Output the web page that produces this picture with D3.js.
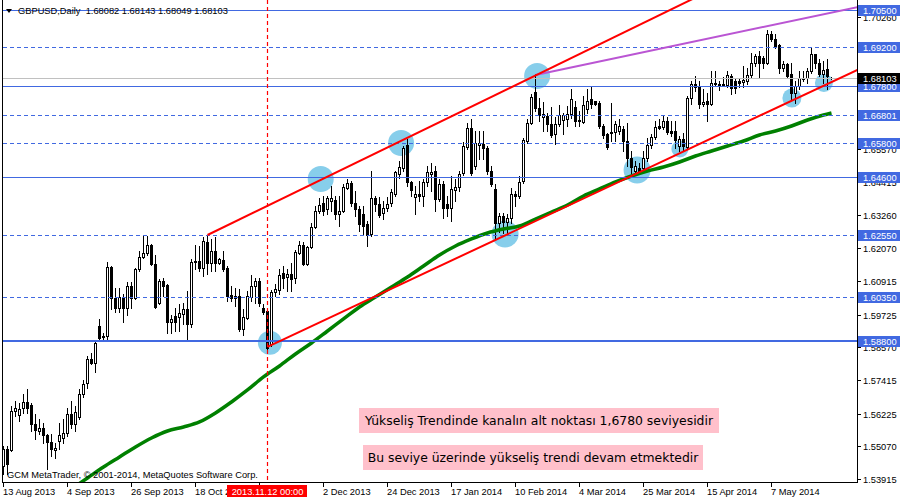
<!DOCTYPE html>
<html><head><meta charset="utf-8">
<script src="https://cdn.jsdelivr.net/npm/d3@7"></script>
<style>body{margin:0;background:#fff}svg{display:block}</style>
</head><body><svg id="c" width="900" height="500"></svg>
<script>
const symbol = "GBPUSD", period = "Daily";
// daily bars: [open, high, low, close]
const ohlc = [
[1.5438,1.5509,1.5410,1.5499],[1.5499,1.5509,1.5410,1.5445],[1.5495,1.5650,1.5490,1.5633],[1.5633,1.5668,1.5615,1.5643],
[1.5619,1.5661,1.5598,1.5640],[1.5643,1.5693,1.5626,1.5665],[1.5665,1.5711,1.5626,1.5643],[1.5654,1.5661,1.5562,1.5587],
[1.5587,1.5622,1.5534,1.5566],[1.5562,1.5605,1.5551,1.5573],[1.5573,1.5591,1.5520,1.5548],[1.5548,1.5551,1.5428,1.5523],
[1.5523,1.5551,1.5474,1.5499],[1.5495,1.5520,1.5464,1.5502],[1.5527,1.5591,1.5499,1.5548],[1.5537,1.5605,1.5520,1.5555],
[1.5555,1.5643,1.5544,1.5622],[1.5622,1.5668,1.5573,1.5587],[1.5587,1.5650,1.5562,1.5629],[1.5612,1.5711,1.5605,1.5693],
[1.5693,1.5742,1.5682,1.5728],[1.5732,1.5827,1.5714,1.5817],[1.5817,1.5838,1.5799,1.5803],[1.5803,1.5877,1.5771,1.5873],
[1.5934,1.5958,1.5887,1.5891],[1.5898,1.5909,1.5880,1.5894],[1.5898,1.6160,1.5887,1.6142],[1.6142,1.6146,1.5994,1.6033],
[1.6033,1.6068,1.5983,1.5997],[1.5997,1.6068,1.5983,1.6036],[1.6036,1.6047,1.5948,1.5997],[1.5997,1.6089,1.5972,1.6075],
[1.6075,1.6089,1.5997,1.6033],[1.6033,1.6139,1.6029,1.6135],[1.6135,1.6199,1.6128,1.6178],[1.6178,1.6252,1.6174,1.6192],
[1.6192,1.6252,1.6185,1.6220],[1.6220,1.6223,1.6149,1.6153],[1.6153,1.6185,1.5997,1.6001],[1.6015,1.6100,1.6011,1.6093],
[1.6093,1.6103,1.6040,1.6075],[1.6079,1.6082,1.5909,1.5948],[1.5948,1.5972,1.5909,1.5958],[1.5969,1.5997,1.5916,1.5948],
[1.5965,1.6011,1.5916,1.5979],[1.5976,1.6015,1.5941,1.5994],[1.5994,1.6057,1.5887,1.5941],[1.5941,1.6171,1.5930,1.6160],
[1.6160,1.6220,1.6135,1.6163],[1.6163,1.6216,1.6128,1.6139],[1.6139,1.6248,1.6110,1.6234],[1.6230,1.6252,1.6117,1.6156],
[1.6156,1.6241,1.6128,1.6199],[1.6199,1.6248,1.6128,1.6156],[1.6156,1.6174,1.6153,1.6171],[1.6167,1.6199,1.6128,1.6135],
[1.6139,1.6146,1.6022,1.6040],[1.6043,1.6075,1.6022,1.6033],[1.6033,1.6068,1.6004,1.6040],[1.6040,1.6064,1.5916,1.5923],
[1.5923,1.5994,1.5902,1.5965],[1.5962,1.6057,1.5958,1.6040],[1.6036,1.6114,1.6022,1.6075],[1.6075,1.6103,1.6015,1.6093],
[1.6093,1.6103,1.6004,1.6015],[1.5997,1.6011,1.5976,1.5983],[1.5987,1.5997,1.5845,1.5856],[1.5869,1.6061,1.5862,1.6054],
[1.6054,1.6082,1.6040,1.6064],[1.6061,1.6135,1.6047,1.6114],[1.6121,1.6146,1.6068,1.6103],[1.6107,1.6135,1.6057,1.6117],
[1.6117,1.6156,1.6057,1.6100],[1.6103,1.6202,1.6086,1.6195],[1.6192,1.6234,1.6188,1.6220],[1.6220,1.6230,1.6149,1.6153],
[1.6153,1.6216,1.6149,1.6213],[1.6213,1.6297,1.6209,1.6283],[1.6283,1.6357,1.6280,1.6340],[1.6340,1.6386,1.6333,1.6361],
[1.6368,1.6393,1.6326,1.6340],[1.6347,1.6393,1.6329,1.6386],[1.6375,1.6428,1.6340,1.6386],[1.6379,1.6393,1.6312,1.6329],
[1.6329,1.6393,1.6287,1.6340],[1.6340,1.6435,1.6336,1.6425],[1.6421,1.6453,1.6418,1.6439],[1.6439,1.6446,1.6357,1.6368],
[1.6368,1.6411,1.6322,1.6347],[1.6347,1.6357,1.6269,1.6294],[1.6329,1.6357,1.6255,1.6287],[1.6294,1.6305,1.6216,1.6255],
[1.6259,1.6481,1.6252,1.6386],[1.6386,1.6393,1.6340,1.6365],[1.6365,1.6389,1.6319,1.6326],[1.6333,1.6375,1.6312,1.6350],
[1.6350,1.6389,1.6340,1.6365],[1.6368,1.6418,1.6357,1.6407],[1.6400,1.6481,1.6393,1.6478],[1.6471,1.6517,1.6457,1.6495],
[1.6492,1.6570,1.6481,1.6563],[1.6573,1.6594,1.6428,1.6442],[1.6442,1.6446,1.6393,1.6414],[1.6389,1.6428,1.6329,1.6400],
[1.6400,1.6446,1.6375,1.6393],[1.6393,1.6453,1.6357,1.6442],[1.6442,1.6499,1.6428,1.6478],[1.6471,1.6510,1.6411,1.6478],
[1.6481,1.6499,1.6340,1.6382],[1.6382,1.6453,1.6375,1.6435],[1.6435,1.6446,1.6315,1.6350],[1.6365,1.6393,1.6322,1.6350],
[1.6350,1.6464,1.6305,1.6418],[1.6414,1.6453,1.6375,1.6425],[1.6425,1.6481,1.6411,1.6471],[1.6474,1.6584,1.6467,1.6570],
[1.6566,1.6651,1.6559,1.6633],[1.6633,1.6665,1.6467,1.6474],[1.6499,1.6623,1.6488,1.6580],[1.6573,1.6623,1.6524,1.6580],
[1.6577,1.6623,1.6524,1.6563],[1.6563,1.6570,1.6471,1.6481],[1.6481,1.6499,1.6428,1.6435],[1.6418,1.6435,1.6241,1.6297],
[1.6297,1.6333,1.6266,1.6322],[1.6322,1.6333,1.6262,1.6301],[1.6301,1.6329,1.6259,1.6315],[1.6315,1.6421,1.6297,1.6400],
[1.6400,1.6411,1.6357,1.6393],[1.6393,1.6464,1.6386,1.6442],[1.6446,1.6598,1.6439,1.6591],[1.6587,1.6665,1.6580,1.6651],
[1.6651,1.6753,1.6647,1.6743],[1.6760,1.6824,1.6693,1.6704],[1.6704,1.6739,1.6658,1.6679],[1.6672,1.6725,1.6623,1.6683],
[1.6676,1.6686,1.6623,1.6647],[1.6647,1.6707,1.6601,1.6609],[1.6612,1.6672,1.6577,1.6647],[1.6647,1.6714,1.6640,1.6679],
[1.6661,1.6686,1.6612,1.6679],[1.6665,1.6711,1.6640,1.6683],[1.6683,1.6771,1.6669,1.6736],[1.6707,1.6729,1.6640,1.6658],
[1.6661,1.6693,1.6640,1.6658],[1.6654,1.6746,1.6651,1.6714],[1.6700,1.6771,1.6686,1.6729],[1.6736,1.6782,1.6704,1.6718],
[1.6729,1.6729,1.6714,1.6718],[1.6722,1.6729,1.6633,1.6640],[1.6640,1.6647,1.6598,1.6609],[1.6612,1.6616,1.6559,1.6566],
[1.6619,1.6722,1.6587,1.6616],[1.6619,1.6658,1.6587,1.6647],[1.6623,1.6665,1.6612,1.6640],[1.6630,1.6640,1.6552,1.6587],
[1.6587,1.6651,1.6499,1.6527],[1.6527,1.6552,1.6474,1.6495],[1.6481,1.6517,1.6471,1.6499],[1.6492,1.6510,1.6474,1.6481],
[1.6492,1.6552,1.6481,1.6527],[1.6527,1.6598,1.6517,1.6573],[1.6573,1.6612,1.6563,1.6601],[1.6601,1.6658,1.6594,1.6637],
[1.6640,1.6665,1.6630,1.6633],[1.6637,1.6676,1.6630,1.6658],[1.6658,1.6672,1.6612,1.6619],[1.6623,1.6658,1.6605,1.6616],
[1.6623,1.6658,1.6563,1.6591],[1.6570,1.6605,1.6552,1.6594],[1.6594,1.6616,1.6552,1.6570],[1.6566,1.6746,1.6559,1.6739],
[1.6739,1.6799,1.6718,1.6789],[1.6789,1.6817,1.6764,1.6778],[1.6778,1.6799,1.6704,1.6718],[1.6718,1.6771,1.6711,1.6725],
[1.6729,1.6757,1.6658,1.6718],[1.6718,1.6835,1.6714,1.6792],[1.6789,1.6835,1.6782,1.6792],[1.6789,1.6799,1.6768,1.6785],
[1.6785,1.6813,1.6782,1.6789],[1.6785,1.6835,1.6778,1.6821],[1.6817,1.6824,1.6753,1.6775],[1.6799,1.6806,1.6757,1.6775],
[1.6799,1.6810,1.6778,1.6792],[1.6796,1.6852,1.6778,1.6803],[1.6799,1.6845,1.6789,1.6821],[1.6821,1.6898,1.6813,1.6863],
[1.6863,1.6895,1.6852,1.6888],[1.6888,1.6905,1.6813,1.6863],[1.6881,1.6888,1.6845,1.6863],[1.6863,1.6979,1.6859,1.6965],
[1.6965,1.6976,1.6941,1.6948],[1.6948,1.6965,1.6916,1.6923],[1.6927,1.6930,1.6828,1.6845],[1.6845,1.6870,1.6835,1.6859],
[1.6859,1.6863,1.6810,1.6817],[1.6824,1.6863,1.6736,1.6757],[1.6757,1.6799,1.6722,1.6782],[1.6782,1.6835,1.6771,1.6810],
[1.6806,1.6835,1.6799,1.6810],[1.6810,1.6845,1.6792,1.6835],[1.6835,1.6916,1.6828,1.6895],[1.6895,1.6895,1.6845,1.6863],
[1.6863,1.6877,1.6817,1.6824],[1.6824,1.6870,1.6792,1.6838],[1.6842,1.6877,1.6771,1.6817],[1.68082,1.68143,1.68049,1.68103]
];
// moving average (green), sampled bars and values
const maBars = [17,21,25,29,33,37,41,45,49,53,57,61,65,69,73,77,81,85,89,93,97,101,105,109,113,117,121,125,129,133,137,141,145,149,153,157,161,165,169,173,177,181,185,189,193,197,201,205,207];
const maValues = [1.53563,1.53952,1.54340,1.54694,1.55048,1.55366,1.55613,1.55755,1.55932,1.56250,1.56639,1.57063,1.57523,1.57912,1.58336,1.58725,1.59149,1.59574,1.59998,1.60352,1.60705,1.61059,1.61448,1.61837,1.62155,1.62403,1.62615,1.62756,1.62862,1.63110,1.63357,1.63605,1.63923,1.64171,1.64418,1.64630,1.64807,1.64948,1.65125,1.65337,1.65514,1.65691,1.65868,1.66080,1.66221,1.66398,1.66610,1.66787,1.66858];
// time axis (tick at bar 64 has its label hidden under the crosshair label)
const timeTickBars = [0,16,32,48,64,80,96,112,128,144,160,176,192];
const timeTickLabels = ["13 Aug 2013","4 Sep 2013","26 Sep 2013","18 Oct 2013","","2 Dec 2013","24 Dec 2013","17 Jan 2014","10 Feb 2014","4 Mar 2014","25 Mar 2014","15 Apr 2014","7 May 2014"];
// price axis (ticks whose labels are fully covered by level labels are left blank)
const priceTicks = [1.70260,1.69105,1.67915,1.66760,1.65570,1.64415,1.63260,1.62070,1.60915,1.59725,1.58570,1.57415,1.56225,1.55070,1.53915];
const hiddenPriceTicks = [1.67915,1.66760];
// horizontal level lines
const solidLevels = [1.705,1.678,1.646];
const boldLevels = [1.588];
const dashedLevels = [1.692,1.66801,1.658,1.6255,1.6035];
// vertical line
const vLineBar = 66, vLineLabel = "2013.11.12 00:00";
// trend lines (bar index, price)
const channelLines = [{b1:51,p1:1.62544,b2:133,p2:1.68187},{b1:66,p1:1.58584,b2:197,p2:1.67289}];
const resistanceLines = [{b1:133,p1:1.68202,b2:197,p2:1.70111}];
// highlighted touch points
const touchPoints = [
 {bar:66.6,price:1.58735,r:12},{bar:79.3,price:1.64524,r:13},{bar:99.4,price:1.65797,r:13},
 {bar:133.4,price:1.68166,r:13},{bar:125.4,price:1.62579,r:13.5},{bar:158.4,price:1.64842,r:13.5},
 {bar:169.1,price:1.65585,r:8.5},{bar:197.1,price:1.67388,r:9.5},{bar:205.1,price:1.67919,r:9}
];
const notes = ["Yükseliş Trendinde kanalın alt noktası 1,6780 seviyesidir","Bu seviye üzerinde yükseliş trendi devam etmektedir"];
const copyright = "GCM MetaTrader, © 2001-2014, MetaQuotes Software Corp.";

const svg = d3.select("#c");
const R = 857, B = 482;
const AX = "Liberation Sans, Arial, sans-serif";
const fmt5 = d3.format(".5f");
const n = ohlc.length;
const x = d3.scaleLinear().domain([0, n-1]).range([3.5, 3.5 + 4*(n-1)]);
const y = d3.scaleLinear().domain([1.53915, 1.705]).range([479, 10]);
const py = p => Math.round(y(p)) + 0.5;

svg.append("defs").append("clipPath").attr("id","plot")
  .append("rect").attr("x",3).attr("y",0).attr("width",R-3).attr("height",B);
const plot = svg.append("g").attr("clip-path","url(#plot)");

// touch circles (background)
plot.append("g").selectAll("circle").data(touchPoints).join("circle")
  .attr("cx",d=>x(d.bar)).attr("cy",d=>y(d.price)).attr("r",d=>d.r).attr("fill","#87CEEB");

// candles
const cg = plot.append("g").attr("shape-rendering","crispEdges");
ohlc.forEach((d,i)=>{
  const [o,h,l,c] = d;
  const col = Math.floor(x(i));
  const yh = Math.round(y(h)), yl = Math.round(y(l));
  cg.append("rect").attr("x",col).attr("y",yh).attr("width",1).attr("height",Math.max(1,yl-yh+1)).attr("fill","#000");
  const yt = Math.round(y(Math.max(o,c))), yb = Math.round(y(Math.min(o,c)));
  const hg = Math.max(1, yb-yt+1);
  cg.append("rect").attr("x",col-1).attr("y",yt).attr("width",3).attr("height",hg).attr("fill","#000");
  if (c > o && hg > 2) cg.append("rect").attr("x",col).attr("y",yt+1).attr("width",1).attr("height",hg-2).attr("fill","#fff");
});

// moving average
const maPts = maBars.map((b,i)=>[b, maValues[i]]);
plot.append("path").datum(maPts)
  .attr("d", d3.line().x(d=>x(d[0])).y(d=>y(d[1])).curve(d3.curveMonotoneX))
  .attr("fill","none").attr("stroke","#008000").attr("stroke-width",3.5);

// horizontal levels
const hl = plot.append("g").attr("shape-rendering","crispEdges");
hl.selectAll(".s").data(solidLevels).join("line").attr("x1",3).attr("x2",R).attr("y1",py).attr("y2",py)
  .attr("stroke","#4169E1").attr("stroke-width",1);
hl.selectAll(".b").data(boldLevels).join("line").attr("x1",3).attr("x2",R).attr("y1",d=>Math.round(y(d))).attr("y2",d=>Math.round(y(d)))
  .attr("stroke","#4169E1").attr("stroke-width",2);
hl.selectAll(".d").data(dashedLevels).join("line").attr("x1",3).attr("x2",R).attr("y1",py).attr("y2",py)
  .attr("stroke","#4169E1").attr("stroke-width",1).attr("stroke-dasharray","4,3");
const bid = ohlc[n-1][3];
hl.append("line").attr("x1",3).attr("x2",R).attr("y1",py(bid)).attr("y2",py(bid)).attr("stroke","#C0C0C0");

// trend lines (rays to the right)
function ray(t){
  const bEnd = x.invert(R + 5);
  const pEnd = t.p1 + (t.p2 - t.p1) * (bEnd - t.b1) / (t.b2 - t.b1);
  return [[x(t.b1), y(t.p1)], [x(bEnd), y(pEnd)]];
}
plot.append("g").selectAll("path").data(resistanceLines).join("path")
  .attr("d", d=>d3.line()(ray(d))).attr("stroke","#BA55D3").attr("stroke-width",2).attr("fill","none");
plot.append("g").selectAll("path").data(channelLines).join("path")
  .attr("d", d=>d3.line()(ray(d))).attr("stroke","#FF0000").attr("stroke-width",2).attr("fill","none");

// vertical line
const vx = Math.floor(x(vLineBar)) + 0.5;
plot.append("line").attr("x1",vx).attr("x2",vx).attr("y1",0).attr("y2",B)
  .attr("stroke","#FF0000").attr("stroke-width",1.2).attr("stroke-dasharray","4,3");

// frame
const fr = svg.append("g").attr("stroke","#000").attr("shape-rendering","crispEdges");
fr.append("line").attr("x1",2.5).attr("x2",2.5).attr("y1",0).attr("y2",B+0.5);
fr.append("line").attr("x1",2).attr("x2",R+1).attr("y1",B+0.5).attr("y2",B+0.5);
fr.append("line").attr("x1",R+0.5).attr("x2",R+0.5).attr("y1",0).attr("y2",B+0.5);

// time axis
const ta = svg.append("g").attr("font-family",AX).attr("font-size","9.3px").attr("fill","#000");
timeTickBars.forEach((b,i)=>{
  const tx = Math.floor(x(b)) + 0.5;
  ta.append("line").attr("x1",tx).attr("x2",tx).attr("y1",B).attr("y2",B+5).attr("stroke","#000").attr("shape-rendering","crispEdges");
  if (timeTickLabels[i]) ta.append("text").attr("x",tx-0.5).attr("y",495).text(timeTickLabels[i]);
});
ta.append("rect").attr("x",vx-40.5).attr("y",485).attr("width",80).attr("height",12).attr("fill","#FF0000");
ta.append("text").attr("x",vx).attr("y",495).attr("text-anchor","middle").attr("fill","#fff").text(vLineLabel);

// price axis
const pa = svg.append("g").attr("font-family",AX).attr("font-size","9.3px");
priceTicks.forEach(p=>{
  const ty = py(p);
  pa.append("line").attr("x1",R).attr("x2",R+4).attr("y1",ty).attr("y2",ty).attr("stroke","#000").attr("shape-rendering","crispEdges");
  if (!hiddenPriceTicks.includes(p)) pa.append("text").attr("x",863).attr("y",ty+3.3).attr("fill","#000").text(fmt5(p));
});
function priceLabel(p, bg){
  const ty = Math.round(y(p));
  pa.append("rect").attr("x",858).attr("y",ty-5).attr("width",42).attr("height",11).attr("fill",bg);
  pa.append("text").attr("x",863).attr("y",ty+3.8).attr("fill","#fff").text(fmt5(p));
}
[...solidLevels, ...boldLevels, ...dashedLevels].forEach(p=>priceLabel(p,"#4169E1"));
priceLabel(bid, "#000");

// header
const hd = ohlc[n-1];
svg.append("path").attr("d","M6,9L12,9L9,13Z").attr("fill","#000");
svg.append("text").attr("x",18).attr("y",14).attr("font-family",AX).attr("font-size","9.3px").attr("fill","#000")
  .attr("xml:space","preserve")
  .text(`${symbol},${period}  ${fmt5(hd[0])} ${fmt5(hd[1])} ${fmt5(hd[2])} ${fmt5(hd[3])}`);
svg.append("text").attr("x",7).attr("y",478).attr("font-family",AX).attr("font-size","9.3px").attr("fill","#000").text(copyright);

// notes
const boxes = [{x:359,y:408,w:360,h:25},{x:363,y:445,w:340,h:25}];
notes.forEach((t,i)=>{
  const b = boxes[i];
  svg.append("rect").attr("x",b.x).attr("y",b.y).attr("width",b.w).attr("height",b.h).attr("fill","#FFC0CB");
  svg.append("text").attr("x",b.x+b.w/2).attr("y",b.y+16.5).attr("text-anchor","middle")
    .attr("font-family","DejaVu Sans, Verdana, sans-serif").attr("font-size","12.4px").attr("fill","#000").text(t);
});
</script></body></html>
